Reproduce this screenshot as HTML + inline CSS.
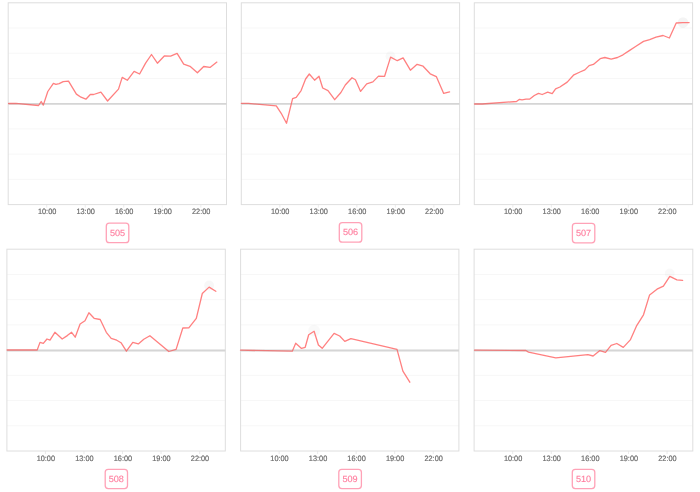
<!DOCTYPE html>
<html><head><meta charset="utf-8"><title>charts</title>
<style>
html,body{margin:0;padding:0;background:#fff;width:700px;height:492px;overflow:hidden}
svg{display:block;will-change:transform}
text{text-rendering:geometricPrecision}
.ax{font-family:"Liberation Sans",sans-serif;font-size:7.8px;fill:#6a6a6a;stroke:#6a6a6a;stroke-width:0.18px;text-anchor:middle}
.lb{font-family:"Liberation Sans",sans-serif;font-size:9.1px;stroke:#ff7c9d;stroke-width:0.12px;fill:#ff7c9d;text-anchor:middle}
</style></head>
<body>
<svg width="700" height="492" viewBox="0 0 700 492">
<line x1="8.20" y1="28.02" x2="226.50" y2="28.02" stroke="#f7f7f7" stroke-width="1"/>
<line x1="8.20" y1="53.25" x2="226.50" y2="53.25" stroke="#f7f7f7" stroke-width="1"/>
<line x1="8.20" y1="78.47" x2="226.50" y2="78.47" stroke="#f7f7f7" stroke-width="1"/>
<line x1="8.20" y1="128.92" x2="226.50" y2="128.92" stroke="#f7f7f7" stroke-width="1"/>
<line x1="8.20" y1="154.15" x2="226.50" y2="154.15" stroke="#f7f7f7" stroke-width="1"/>
<line x1="8.20" y1="179.38" x2="226.50" y2="179.38" stroke="#f7f7f7" stroke-width="1"/>
<rect x="8.20" y="2.80" width="218.30" height="201.80" fill="none" stroke="#dedede" stroke-width="1"/>
<line x1="46.72" y1="204.60" x2="46.72" y2="207.60" stroke="#dedede" stroke-width="0.6"/>
<text x="47.12" y="214.35" class="ax" textLength="18.4" lengthAdjust="spacingAndGlyphs">10:00</text>
<line x1="85.25" y1="204.60" x2="85.25" y2="207.60" stroke="#dedede" stroke-width="0.6"/>
<text x="85.65" y="214.35" class="ax" textLength="18.4" lengthAdjust="spacingAndGlyphs">13:00</text>
<line x1="123.77" y1="204.60" x2="123.77" y2="207.60" stroke="#dedede" stroke-width="0.6"/>
<text x="124.17" y="214.35" class="ax" textLength="18.4" lengthAdjust="spacingAndGlyphs">16:00</text>
<line x1="162.29" y1="204.60" x2="162.29" y2="207.60" stroke="#dedede" stroke-width="0.6"/>
<text x="162.69" y="214.35" class="ax" textLength="18.4" lengthAdjust="spacingAndGlyphs">19:00</text>
<line x1="200.82" y1="204.60" x2="200.82" y2="207.60" stroke="#dedede" stroke-width="0.6"/>
<text x="201.22" y="214.35" class="ax" textLength="18.4" lengthAdjust="spacingAndGlyphs">22:00</text>
<line x1="8.20" y1="103.90" x2="226.50" y2="103.90" stroke="#e4e4e4" stroke-width="1.9"/>
<polyline points="8.6,103.5 15.9,103.3 38.6,105.5 41.2,101.5 43.3,105.1 47.8,91.5 53.4,83.3 55.9,84.4 59.2,83.6 63.2,81.6 68.5,81.1 76.4,94.1 81.0,97.2 85.9,99.2 90.3,94.5 93.6,94.5 100.9,92.2 107.6,101.0 118.5,89.1 122.2,77.4 127.3,80.3 134.1,71.3 139.6,74.0 145.6,63.1 151.5,54.5 157.4,63.2 164.3,56.0 170.6,56.2 177.1,53.4 183.7,64.2 190.0,66.3 197.4,72.8 203.7,66.5 210.0,67.4 216.9,62.1" fill="none" stroke="#ff7272" stroke-opacity="0.9" stroke-width="1.3" stroke-linejoin="round" stroke-linecap="round"/>
<line x1="8.20" y1="103.90" x2="226.50" y2="103.90" stroke="#6e6e6e" stroke-opacity="0.12" stroke-width="1.9"/>
<rect x="106.30" y="223.20" width="22.50" height="19.50" rx="3" ry="3" fill="#fff" stroke="#ffa2b7" stroke-width="1.3"/>
<text x="117.55" y="235.50" class="lb" textLength="15.2" lengthAdjust="spacingAndGlyphs">505</text>
<line x1="241.30" y1="28.02" x2="459.60" y2="28.02" stroke="#f7f7f7" stroke-width="1"/>
<line x1="241.30" y1="53.25" x2="459.60" y2="53.25" stroke="#f7f7f7" stroke-width="1"/>
<line x1="241.30" y1="78.47" x2="459.60" y2="78.47" stroke="#f7f7f7" stroke-width="1"/>
<line x1="241.30" y1="128.92" x2="459.60" y2="128.92" stroke="#f7f7f7" stroke-width="1"/>
<line x1="241.30" y1="154.15" x2="459.60" y2="154.15" stroke="#f7f7f7" stroke-width="1"/>
<line x1="241.30" y1="179.38" x2="459.60" y2="179.38" stroke="#f7f7f7" stroke-width="1"/>
<rect x="241.30" y="2.80" width="218.30" height="201.80" fill="none" stroke="#dedede" stroke-width="1"/>
<line x1="279.82" y1="204.60" x2="279.82" y2="207.60" stroke="#dedede" stroke-width="0.6"/>
<text x="280.22" y="214.35" class="ax" textLength="18.4" lengthAdjust="spacingAndGlyphs">10:00</text>
<line x1="318.35" y1="204.60" x2="318.35" y2="207.60" stroke="#dedede" stroke-width="0.6"/>
<text x="318.75" y="214.35" class="ax" textLength="18.4" lengthAdjust="spacingAndGlyphs">13:00</text>
<line x1="356.87" y1="204.60" x2="356.87" y2="207.60" stroke="#dedede" stroke-width="0.6"/>
<text x="357.27" y="214.35" class="ax" textLength="18.4" lengthAdjust="spacingAndGlyphs">16:00</text>
<line x1="395.39" y1="204.60" x2="395.39" y2="207.60" stroke="#dedede" stroke-width="0.6"/>
<text x="395.79" y="214.35" class="ax" textLength="18.4" lengthAdjust="spacingAndGlyphs">19:00</text>
<line x1="433.92" y1="204.60" x2="433.92" y2="207.60" stroke="#dedede" stroke-width="0.6"/>
<text x="434.32" y="214.35" class="ax" textLength="18.4" lengthAdjust="spacingAndGlyphs">22:00</text>
<line x1="241.30" y1="103.90" x2="459.60" y2="103.90" stroke="#e4e4e4" stroke-width="1.9"/>
<circle cx="390.5" cy="56.3" r="5" fill="#000" fill-opacity="0.025"/>
<polyline points="241.4,103.4 248.5,103.4 276.3,105.8 281.2,113.3 286.5,123.3 292.6,98.7 296.2,97.3 301.1,90.6 305.6,79.0 309.3,74.0 314.6,80.2 319.0,76.3 322.7,88.0 328.0,90.6 334.7,99.7 340.9,92.5 345.3,85.0 352.0,77.7 355.4,79.8 360.6,91.4 366.7,83.9 372.9,81.9 378.5,76.1 384.6,76.3 390.6,57.1 397.3,60.7 403.1,57.9 410.4,70.2 417.1,64.3 423.1,66.2 430.2,73.8 436.3,76.6 443.7,93.4 449.6,91.8" fill="none" stroke="#ff7272" stroke-opacity="0.9" stroke-width="1.3" stroke-linejoin="round" stroke-linecap="round"/>
<line x1="241.30" y1="103.90" x2="459.60" y2="103.90" stroke="#6e6e6e" stroke-opacity="0.12" stroke-width="1.9"/>
<rect x="339.30" y="222.70" width="22.50" height="19.50" rx="3" ry="3" fill="#fff" stroke="#ffa2b7" stroke-width="1.3"/>
<text x="350.55" y="235.00" class="lb" textLength="15.2" lengthAdjust="spacingAndGlyphs">506</text>
<line x1="474.30" y1="28.02" x2="692.60" y2="28.02" stroke="#f7f7f7" stroke-width="1"/>
<line x1="474.30" y1="53.25" x2="692.60" y2="53.25" stroke="#f7f7f7" stroke-width="1"/>
<line x1="474.30" y1="78.47" x2="692.60" y2="78.47" stroke="#f7f7f7" stroke-width="1"/>
<line x1="474.30" y1="128.92" x2="692.60" y2="128.92" stroke="#f7f7f7" stroke-width="1"/>
<line x1="474.30" y1="154.15" x2="692.60" y2="154.15" stroke="#f7f7f7" stroke-width="1"/>
<line x1="474.30" y1="179.38" x2="692.60" y2="179.38" stroke="#f7f7f7" stroke-width="1"/>
<rect x="474.30" y="2.80" width="218.30" height="201.80" fill="none" stroke="#dedede" stroke-width="1"/>
<line x1="512.82" y1="204.60" x2="512.82" y2="207.60" stroke="#dedede" stroke-width="0.6"/>
<text x="513.22" y="214.35" class="ax" textLength="18.4" lengthAdjust="spacingAndGlyphs">10:00</text>
<line x1="551.35" y1="204.60" x2="551.35" y2="207.60" stroke="#dedede" stroke-width="0.6"/>
<text x="551.75" y="214.35" class="ax" textLength="18.4" lengthAdjust="spacingAndGlyphs">13:00</text>
<line x1="589.87" y1="204.60" x2="589.87" y2="207.60" stroke="#dedede" stroke-width="0.6"/>
<text x="590.27" y="214.35" class="ax" textLength="18.4" lengthAdjust="spacingAndGlyphs">16:00</text>
<line x1="628.39" y1="204.60" x2="628.39" y2="207.60" stroke="#dedede" stroke-width="0.6"/>
<text x="628.79" y="214.35" class="ax" textLength="18.4" lengthAdjust="spacingAndGlyphs">19:00</text>
<line x1="666.92" y1="204.60" x2="666.92" y2="207.60" stroke="#dedede" stroke-width="0.6"/>
<text x="667.32" y="214.35" class="ax" textLength="18.4" lengthAdjust="spacingAndGlyphs">22:00</text>
<line x1="474.30" y1="103.90" x2="692.60" y2="103.90" stroke="#e4e4e4" stroke-width="1.9"/>
<circle cx="683" cy="22.6" r="5.3" fill="#000" fill-opacity="0.045"/>
<polyline points="474.5,104.0 482.0,104.0 516.5,101.5 519.5,99.3 522.0,99.8 526.0,99.2 529.5,99.2 534.3,95.5 538.5,93.3 542.2,94.5 547.7,92.2 552.2,93.7 555.6,88.8 559.9,87.0 567.2,82.1 573.9,74.8 580.0,72.0 584.9,69.9 589.1,65.6 593.4,64.4 600.2,58.7 604.9,57.5 611.2,59.1 617.5,57.5 623.0,54.8 629.3,50.6 635.6,46.5 643.5,41.4 649.7,39.6 656.0,37.2 663.1,35.5 669.4,38.0 676.2,23.0 682.8,22.6 689.1,22.6" fill="none" stroke="#ff7272" stroke-opacity="0.9" stroke-width="1.3" stroke-linejoin="round" stroke-linecap="round"/>
<line x1="474.30" y1="103.90" x2="692.60" y2="103.90" stroke="#6e6e6e" stroke-opacity="0.12" stroke-width="1.9"/>
<rect x="572.40" y="223.30" width="22.40" height="19.50" rx="3" ry="3" fill="#fff" stroke="#ffa2b7" stroke-width="1.3"/>
<text x="583.60" y="235.60" class="lb" textLength="15.2" lengthAdjust="spacingAndGlyphs">507</text>
<line x1="6.90" y1="274.43" x2="225.30" y2="274.43" stroke="#f7f7f7" stroke-width="1"/>
<line x1="6.90" y1="299.65" x2="225.30" y2="299.65" stroke="#f7f7f7" stroke-width="1"/>
<line x1="6.90" y1="324.88" x2="225.30" y2="324.88" stroke="#f7f7f7" stroke-width="1"/>
<line x1="6.90" y1="375.32" x2="225.30" y2="375.32" stroke="#f7f7f7" stroke-width="1"/>
<line x1="6.90" y1="400.55" x2="225.30" y2="400.55" stroke="#f7f7f7" stroke-width="1"/>
<line x1="6.90" y1="425.77" x2="225.30" y2="425.77" stroke="#f7f7f7" stroke-width="1"/>
<rect x="6.90" y="249.20" width="218.40" height="201.80" fill="none" stroke="#dedede" stroke-width="1"/>
<line x1="45.44" y1="451.00" x2="45.44" y2="454.00" stroke="#dedede" stroke-width="0.6"/>
<text x="45.84" y="460.55" class="ax" textLength="18.4" lengthAdjust="spacingAndGlyphs">10:00</text>
<line x1="83.98" y1="451.00" x2="83.98" y2="454.00" stroke="#dedede" stroke-width="0.6"/>
<text x="84.38" y="460.55" class="ax" textLength="18.4" lengthAdjust="spacingAndGlyphs">13:00</text>
<line x1="122.52" y1="451.00" x2="122.52" y2="454.00" stroke="#dedede" stroke-width="0.6"/>
<text x="122.92" y="460.55" class="ax" textLength="18.4" lengthAdjust="spacingAndGlyphs">16:00</text>
<line x1="161.06" y1="451.00" x2="161.06" y2="454.00" stroke="#dedede" stroke-width="0.6"/>
<text x="161.46" y="460.55" class="ax" textLength="18.4" lengthAdjust="spacingAndGlyphs">19:00</text>
<line x1="199.61" y1="451.00" x2="199.61" y2="454.00" stroke="#dedede" stroke-width="0.6"/>
<text x="200.01" y="460.55" class="ax" textLength="18.4" lengthAdjust="spacingAndGlyphs">22:00</text>
<line x1="6.90" y1="350.55" x2="225.30" y2="350.55" stroke="#e4e4e4" stroke-width="1.9"/>
<circle cx="209.1" cy="285.5" r="5" fill="#000" fill-opacity="0.03"/>
<polyline points="7.1,350.0 37.2,350.0 40.0,342.4 43.3,343.3 47.0,339.0 50.0,340.2 54.9,332.3 62.2,339.0 67.3,335.6 71.6,332.3 75.2,337.2 80.1,324.0 85.0,320.7 88.9,312.8 94.1,318.3 100.2,319.5 106.3,332.3 111.2,338.4 116.7,340.2 121.0,342.7 126.4,351.2 132.8,342.3 138.3,343.9 143.8,339.3 149.9,335.7 168.8,351.5 176.1,349.4 182.8,328.0 188.8,327.9 196.3,318.4 202.3,293.5 209.1,287.1 215.8,291.3" fill="none" stroke="#ff7272" stroke-opacity="0.9" stroke-width="1.3" stroke-linejoin="round" stroke-linecap="round"/>
<line x1="6.90" y1="350.55" x2="225.30" y2="350.55" stroke="#6e6e6e" stroke-opacity="0.12" stroke-width="1.9"/>
<rect x="105.20" y="469.30" width="22.30" height="19.30" rx="3" ry="3" fill="#fff" stroke="#ffa2b7" stroke-width="1.3"/>
<text x="116.35" y="481.60" class="lb" textLength="15.2" lengthAdjust="spacingAndGlyphs">508</text>
<line x1="240.60" y1="274.43" x2="458.90" y2="274.43" stroke="#f7f7f7" stroke-width="1"/>
<line x1="240.60" y1="299.65" x2="458.90" y2="299.65" stroke="#f7f7f7" stroke-width="1"/>
<line x1="240.60" y1="324.88" x2="458.90" y2="324.88" stroke="#f7f7f7" stroke-width="1"/>
<line x1="240.60" y1="375.32" x2="458.90" y2="375.32" stroke="#f7f7f7" stroke-width="1"/>
<line x1="240.60" y1="400.55" x2="458.90" y2="400.55" stroke="#f7f7f7" stroke-width="1"/>
<line x1="240.60" y1="425.77" x2="458.90" y2="425.77" stroke="#f7f7f7" stroke-width="1"/>
<rect x="240.60" y="249.20" width="218.30" height="201.80" fill="none" stroke="#dedede" stroke-width="1"/>
<line x1="279.12" y1="451.00" x2="279.12" y2="454.00" stroke="#dedede" stroke-width="0.6"/>
<text x="279.52" y="460.55" class="ax" textLength="18.4" lengthAdjust="spacingAndGlyphs">10:00</text>
<line x1="317.65" y1="451.00" x2="317.65" y2="454.00" stroke="#dedede" stroke-width="0.6"/>
<text x="318.05" y="460.55" class="ax" textLength="18.4" lengthAdjust="spacingAndGlyphs">13:00</text>
<line x1="356.17" y1="451.00" x2="356.17" y2="454.00" stroke="#dedede" stroke-width="0.6"/>
<text x="356.57" y="460.55" class="ax" textLength="18.4" lengthAdjust="spacingAndGlyphs">16:00</text>
<line x1="394.69" y1="451.00" x2="394.69" y2="454.00" stroke="#dedede" stroke-width="0.6"/>
<text x="395.09" y="460.55" class="ax" textLength="18.4" lengthAdjust="spacingAndGlyphs">19:00</text>
<line x1="433.22" y1="451.00" x2="433.22" y2="454.00" stroke="#dedede" stroke-width="0.6"/>
<text x="433.62" y="460.55" class="ax" textLength="18.4" lengthAdjust="spacingAndGlyphs">22:00</text>
<line x1="240.60" y1="350.55" x2="458.90" y2="350.55" stroke="#e4e4e4" stroke-width="1.9"/>
<circle cx="314.1" cy="330.8" r="6" fill="#000" fill-opacity="0.022"/>
<polyline points="240.5,350.2 292.3,351.2 295.7,343.2 301.5,348.4 305.2,347.3 308.7,334.8 314.1,331.3 318.4,345.0 322.2,348.3 334.1,333.3 339.7,336.0 344.8,341.4 350.9,338.6 397.0,349.4 402.9,371.2 409.8,382.2" fill="none" stroke="#ff7272" stroke-opacity="0.9" stroke-width="1.3" stroke-linejoin="round" stroke-linecap="round"/>
<line x1="240.60" y1="350.55" x2="458.90" y2="350.55" stroke="#6e6e6e" stroke-opacity="0.12" stroke-width="1.9"/>
<rect x="338.80" y="469.35" width="22.60" height="19.25" rx="3" ry="3" fill="#fff" stroke="#ffa2b7" stroke-width="1.3"/>
<text x="350.10" y="481.65" class="lb" textLength="15.2" lengthAdjust="spacingAndGlyphs">509</text>
<line x1="474.10" y1="274.43" x2="692.80" y2="274.43" stroke="#f7f7f7" stroke-width="1"/>
<line x1="474.10" y1="299.65" x2="692.80" y2="299.65" stroke="#f7f7f7" stroke-width="1"/>
<line x1="474.10" y1="324.88" x2="692.80" y2="324.88" stroke="#f7f7f7" stroke-width="1"/>
<line x1="474.10" y1="375.32" x2="692.80" y2="375.32" stroke="#f7f7f7" stroke-width="1"/>
<line x1="474.10" y1="400.55" x2="692.80" y2="400.55" stroke="#f7f7f7" stroke-width="1"/>
<line x1="474.10" y1="425.77" x2="692.80" y2="425.77" stroke="#f7f7f7" stroke-width="1"/>
<rect x="474.10" y="249.20" width="218.70" height="201.80" fill="none" stroke="#dedede" stroke-width="1"/>
<line x1="512.69" y1="451.00" x2="512.69" y2="454.00" stroke="#dedede" stroke-width="0.6"/>
<text x="513.09" y="460.55" class="ax" textLength="18.4" lengthAdjust="spacingAndGlyphs">10:00</text>
<line x1="551.29" y1="451.00" x2="551.29" y2="454.00" stroke="#dedede" stroke-width="0.6"/>
<text x="551.69" y="460.55" class="ax" textLength="18.4" lengthAdjust="spacingAndGlyphs">13:00</text>
<line x1="589.88" y1="451.00" x2="589.88" y2="454.00" stroke="#dedede" stroke-width="0.6"/>
<text x="590.28" y="460.55" class="ax" textLength="18.4" lengthAdjust="spacingAndGlyphs">16:00</text>
<line x1="628.48" y1="451.00" x2="628.48" y2="454.00" stroke="#dedede" stroke-width="0.6"/>
<text x="628.88" y="460.55" class="ax" textLength="18.4" lengthAdjust="spacingAndGlyphs">19:00</text>
<line x1="667.07" y1="451.00" x2="667.07" y2="454.00" stroke="#dedede" stroke-width="0.6"/>
<text x="667.47" y="460.55" class="ax" textLength="18.4" lengthAdjust="spacingAndGlyphs">22:00</text>
<line x1="474.10" y1="350.55" x2="692.80" y2="350.55" stroke="#e4e4e4" stroke-width="1.9"/>
<circle cx="669.7" cy="273.5" r="5" fill="#000" fill-opacity="0.025"/>
<polyline points="474.5,350.2 525.9,350.5 528.5,352.1 555.8,357.9 587.9,354.7 593.1,356.0 599.9,350.6 605.5,352.4 611.1,345.3 616.8,343.5 623.3,347.4 630.3,339.9 636.4,326.2 643.5,314.8 649.6,294.9 657.0,289.2 663.4,286.1 669.8,276.4 676.9,279.9 682.6,280.4" fill="none" stroke="#ff7272" stroke-opacity="0.9" stroke-width="1.3" stroke-linejoin="round" stroke-linecap="round"/>
<line x1="474.10" y1="350.55" x2="692.80" y2="350.55" stroke="#6e6e6e" stroke-opacity="0.12" stroke-width="1.9"/>
<rect x="572.30" y="469.35" width="22.50" height="19.25" rx="3" ry="3" fill="#fff" stroke="#ffa2b7" stroke-width="1.3"/>
<text x="583.55" y="481.65" class="lb" textLength="15.2" lengthAdjust="spacingAndGlyphs">510</text>
</svg>
</body></html>
